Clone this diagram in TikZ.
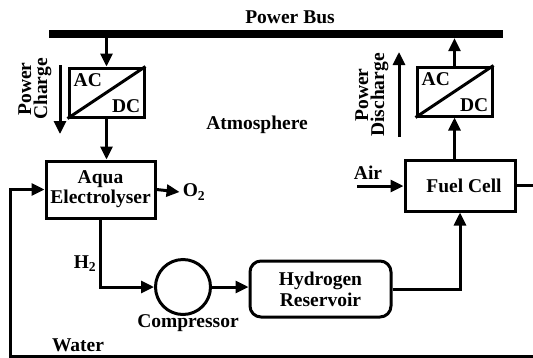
\documentclass[tikz,border=0pt]{standalone}
\usepackage{fontspec}
\setmainfont{Liberation Serif}
\usepackage{tikz}
\usetikzlibrary{arrows.meta, positioning}
\tikzset{
  unit/.style={rectangle, draw=black, line width=3pt, fill=white,
    align=center, font=\bfseries\fontsize{19.5}{20}\selectfont},
  conv/.style={rectangle, draw=black, line width=3pt, fill=white,
    minimum width=75pt, minimum height=49pt, inner sep=0pt},
  tank/.style={rectangle, draw=black, line width=3pt, rounded corners=11pt,
    align=center, font=\bfseries\fontsize{19.5}{21}\selectfont},
  label/.style={font=\bfseries\fontsize{19.5}{20}\selectfont, inner sep=0pt, align=center},
  vlabel/.style={font=\bfseries\fontsize{19.5}{16}\selectfont, inner sep=0pt,
    align=center, rotate=90},
  flow/.style={-{Triangle[length=13pt, width=12pt]}, line width=3pt},
  pipe/.style={line width=3pt}
}

\begin{document}
\begin{tikzpicture}[x=1pt, y=-1pt]
  \path[use as bounding box, clip] (0,0) rectangle (533,357);

  % power bus and converters
  \node[fill=black, minimum width=454pt, minimum height=8pt, inner sep=0pt] (bus) at (276,34) {};
  \node[label] (buslbl) at (290,17) {Power Bus};
  \node[conv] (acl) at (106.5,92.5) {};
  \node[conv] (acr) at (454.5,91.5) {};
  \draw[pipe] (acl.south west) -- (acl.north east);
  \draw[pipe] (acr.south west) -- (acr.north east);
  \node[label, anchor=north west] at ([shift={(6pt,-7pt)}]acl.north west) {AC};
  \node[label, anchor=south east] at ([shift={(-5pt,6pt)}]acl.south east) {DC};
  \node[label, anchor=north west] at ([shift={(6pt,-7pt)}]acr.north west) {AC};
  \node[label, anchor=south east] at ([shift={(-5pt,6pt)}]acr.south east) {DC};

  % process units
  \node[unit, minimum width=109pt, minimum height=57pt] (elec) at (100.5,189.5) {Aqua\\Electrolyser};
  \node[unit, minimum width=110pt, minimum height=51pt] (fc) at (460,185.5) {\hspace*{8pt}Fuel Cell};
  \node[circle, draw=black, line width=3pt, minimum size=55pt, inner sep=0pt] (comp) at (183,287) {};
  \node[tank, minimum width=141pt, minimum height=56pt] (res) at (320.5,289) {Hydrogen\\Reservoir};

  % text labels
  \node[label] (atm) at (257,125) {Atmosphere};
  \node[vlabel] (chg) at (35,89) {Power\\Charge};
  \node[vlabel] (dis) at (372,95) {Power\\Discharge};
  \node[label] (o2) at (194,192) {O\textsubscript{2}};
  \node[label] (h2) at (85,264) {H\textsubscript{2}};
  \node[label] (air) at (368,173) {Air};
  \node[label] (cmplbl) at (188,323) {Compressor};
  \node[label] (wtr) at (78,345) {Water};

  \coordinate (chgtop) at (60,65);
  \coordinate (chgbot) at (60,134);
  \coordinate (disbot) at (399,137);
  \coordinate (distop) at (399,52);
  \coordinate (airin) at (357,186);
  \coordinate (rb) at (545,356);
  \coordinate (lb) at (10,356);

  % connectors
  \draw[flow] (acl.north |- bus.south) -- (acl.north);
  \draw[flow] (acl.south) -- (acl.south |- elec.north);
  \draw[flow] (chgtop) -- (chgbot);
  \draw[flow] (acr.north) -- (acr.north |- bus.south);
  \draw[flow] (fc.north -| acr.south) -- (acr.south);
  \draw[flow] (disbot) -- (distop);
  \draw[flow] (elec.east) -- ([xshift=-3pt]o2.west);
  \draw[flow] (elec.south) |- (comp.west);
  \draw[flow] (comp.east) -- (comp.east -| res.west);
  \draw[flow] (res.east) -| (fc.south);
  \draw[flow] (airin) -- (airin -| fc.west);
  \draw[flow] (fc.east) -| (rb) -- (lb) |- (elec.west);
\end{tikzpicture}
\end{document}
